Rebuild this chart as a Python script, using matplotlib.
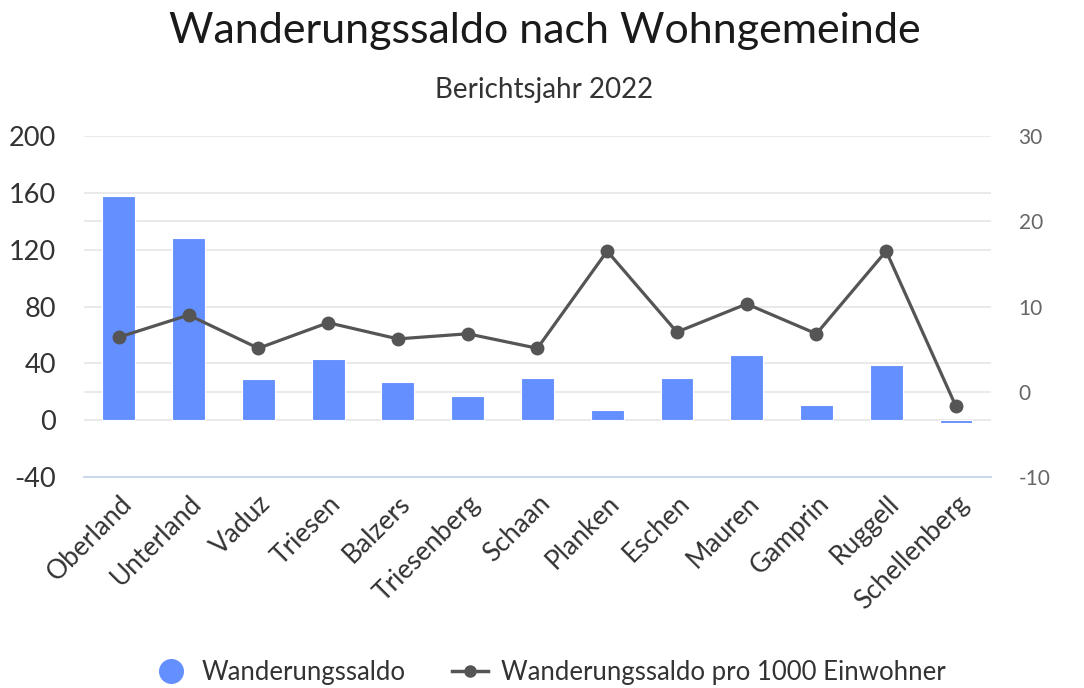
import matplotlib
matplotlib.use("Agg")
import matplotlib.pyplot as plt
from matplotlib.lines import Line2D

plt.rcParams["font.family"] = ["Lato", "DejaVu Sans"]
plt.rcParams["axes.unicode_minus"] = False

# Daten
gemeinden = ["Oberland", "Unterland", "Vaduz", "Triesen", "Balzers", "Triesenberg",
             "Schaan", "Planken", "Eschen", "Mauren", "Gamprin", "Ruggell", "Schellenberg"]
saldo = [158, 128, 29, 43, 27, 17, 30, 7, 30, 46, 11, 39, -2]
saldo_pro_1000 = [6.4, 9.0, 5.1, 8.1, 6.2, 6.8, 5.1, 16.5, 7.0, 10.3, 6.8, 16.5, -1.7]

left_ticks = [-40, 0, 40, 80, 120, 160, 200]
right_ticks = [-10, 0, 10, 20, 30]

BAR_COLOR = "#648fff"
LINE_COLOR = "#555555"
GRID_COLOR = "#e6e6e6"

fig = plt.figure(figsize=(10.84, 6.88), dpi=100)
ax = fig.add_axes([0.0775, 0.3067, 0.8365, 0.4956])
ax2 = ax.twinx()

x = range(len(gemeinden))
ax.bar(x, saldo, width=0.47, color=BAR_COLOR, edgecolor="white", linewidth=0.8, zorder=2)
ax2.plot(x, saldo_pro_1000, color=LINE_COLOR, lw=2.3, marker="o", ms=9, zorder=3)

ax.set_xlim(-0.5, len(gemeinden) - 0.5)
ax.set_ylim(-40, 200)
ax2.set_ylim(-10, 30)
ax.set_yticks(left_ticks)
ax2.set_yticks(right_ticks)
ax2.set_zorder(ax.get_zorder() + 1)
ax2.patch.set_visible(False)

# Gitterlinien beider Achsen hinter den Balken (rechte Werte auf linke Skala umgerechnet)
l0, l1 = ax.get_ylim()
r0, r1 = ax2.get_ylim()
grid_vals = set(left_ticks[1:])
grid_vals |= {l0 + (t - r0) * (l1 - l0) / (r1 - r0) for t in right_ticks[1:]}
for t in grid_vals:
    ax.axhline(t, color=GRID_COLOR, lw=1.2, zorder=0)

for a in (ax, ax2):
    for s in ("top", "left", "right"):
        a.spines[s].set_visible(False)
    a.spines["bottom"].set_color("#ccd6eb")
    a.spines["bottom"].set_linewidth(1.2)

ax.tick_params(axis="y", length=0, labelsize=19.5, labelcolor="#333333", pad=20)
ax2.tick_params(axis="y", length=0, labelsize=15, labelcolor="#666666", pad=20)
ax.set_xticks(list(x))
ax.set_xticklabels(gemeinden, rotation=45, ha="right", rotation_mode="anchor",
                   fontsize=19, color="#333333")
ax.tick_params(axis="x", length=0, pad=10)
ax2.tick_params(axis="x", length=0)

fig.text(0.503, 0.955, "Wanderungssaldo nach Wohngemeinde", ha="center", va="center",
         fontsize=31, color="#1a1a1a")
fig.text(0.502, 0.869, "Berichtsjahr 2022", ha="center", va="center",
         fontsize=20, color="#333333")

handles = [
    Line2D([], [], ls="none", marker="o", ms=17, color=BAR_COLOR),
    Line2D([], [], color=LINE_COLOR, lw=2.5, marker="o", ms=8),
]
fig.legend(handles, ["Wanderungssaldo", "Wanderungssaldo pro 1000 Einwohner"],
           loc="center", bbox_to_anchor=(0.507, 0.023), ncol=2, frameon=False,
           fontsize=18.5, handlelength=1.4, columnspacing=1.8, handletextpad=0.5,
           labelcolor="#333333")

fig.savefig("out.png", dpi=100)
